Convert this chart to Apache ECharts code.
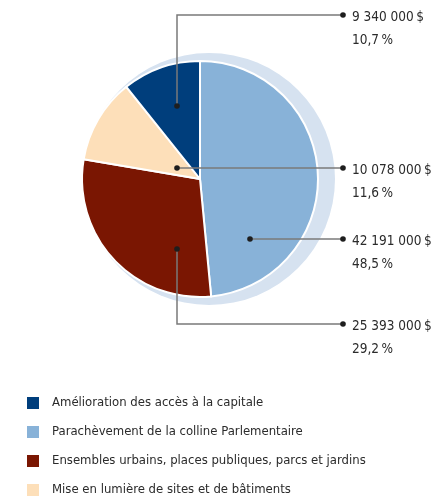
<!DOCTYPE html>
<html>
<head>
<meta charset="utf-8">
<script src="https://cdn.jsdelivr.net/npm/echarts@6/dist/echarts.min.js"></script>
<style>
html,body{margin:0;padding:0;background:#fff;}
#main{width:444px;height:500px;}
</style>
</head>
<body>
<div id="main"></div>
<script>
// Data (clockwise order from 12 o'clock)
const categories = [
  'Parachèvement de la colline Parlementaire',
  'Ensembles urbains, places publiques, parcs et jardins',
  'Mise en lumière de sites et de bâtiments',
  'Amélioration des accès à la capitale'
];
const amounts = [42191000, 25393000, 10078000, 9340000];
const amountLabels = ['42 191 000\u202F$', '25 393 000\u202F$', '10 078 000\u202F$', '9 340 000\u202F$'];
const percentLabels = ['48,5\u202F%', '29,2\u202F%', '11,6\u202F%', '10,7\u202F%'];
const legendOrder = [
  'Amélioration des accès à la capitale',
  'Parachèvement de la colline Parlementaire',
  'Ensembles urbains, places publiques, parcs et jardins',
  'Mise en lumière de sites et de bâtiments'
];
const colors = ['#88b2d8', '#7a1602', '#fddfb9', '#003e7c'];

// layout
const FONT = '"Liberation Sans Narrow", "DejaVu Sans Condensed", "Liberation Sans", sans-serif';
const pieCenter = [200, 179];
const pieRadius = 118;
const shadowCenter = [209, 179];
const shadowRadius = 126;
const lineEndX = 343;
const textX = 352;
// anchors (offset from centre) and line-row y for each slice
const anchors = [[50, 60], [-23, 70], [-23, -11], [-23, -73]];
const rowY = [239, 324, 168, 15];

const chart = echarts.init(document.getElementById('main'), null, {renderer: 'canvas'});

const graphics = [];
anchors.forEach((a, i) => {
  const ax = pieCenter[0] + a[0], ay = pieCenter[1] + a[1];
  const pts = (Math.abs(ay - rowY[i]) < 1)
    ? [[ax, ay], [lineEndX, ay]]
    : [[ax, ay], [ax, rowY[i]], [lineEndX, rowY[i]]];
  graphics.push({type: 'polyline', z: 100, shape: {points: pts},
    style: {stroke: '#7a7a7a', lineWidth: 1.5, fill: null}});
  graphics.push({type: 'circle', z: 101, shape: {cx: ax, cy: ay, r: 2.8}, style: {fill: '#1e1e1e'}});
  graphics.push({type: 'circle', z: 101, shape: {cx: lineEndX, cy: rowY[i], r: 2.8}, style: {fill: '#1e1e1e'}});
});

chart.setOption({
  animation: false,
  color: colors,
  legend: {
    data: legendOrder,
    orient: 'vertical',
    left: 25,
    top: 395,
    height: 120,
    padding: 0,
    icon: 'rect',
    itemWidth: 14,
    itemHeight: 14,
    itemGap: 13,
    selectedMode: false,
    textStyle: {fontFamily: FONT, fontSize: 13, lineHeight: 14, color: '#2b2b2b', padding: [0, 0, 0, 7]}
  },
  graphic: graphics,
  series: [
    {
      type: 'pie',
      silent: true,
      z: 1,
      center: shadowCenter,
      radius: shadowRadius,
      label: {show: false},
      labelLine: {show: false},
      data: [{value: 1, name: 'shadow', itemStyle: {color: '#d6e2f0'}}]
    },
    {
      type: 'pie',
      z: 2,
      center: pieCenter,
      radius: pieRadius,
      startAngle: 90,
      clockwise: true,
      itemStyle: {borderColor: '#fff', borderWidth: 2},
      label: {
        show: true,
        position: 'outside',
        overflow: 'none',
        formatter: p => '{a|' + amountLabels[p.dataIndex] + '}\n{b|' + percentLabels[p.dataIndex] + '}',
        rich: {
          a: {fontFamily: FONT, fontSize: 13.5, color: '#2b2b2b', lineHeight: 23},
          b: {fontFamily: FONT, fontSize: 13.5, color: '#2b2b2b', lineHeight: 23}
        }
      },
      labelLine: {show: false},
      labelLayout: p => ({
        x: textX,
        y: rowY[p.dataIndex] - 9.5,
        align: 'left',
        verticalAlign: 'top'
      }),
      emphasis: {disabled: true},
      data: categories.map((c, i) => ({name: c, value: amounts[i]}))
    }
  ]
});
</script>
</body>
</html>
